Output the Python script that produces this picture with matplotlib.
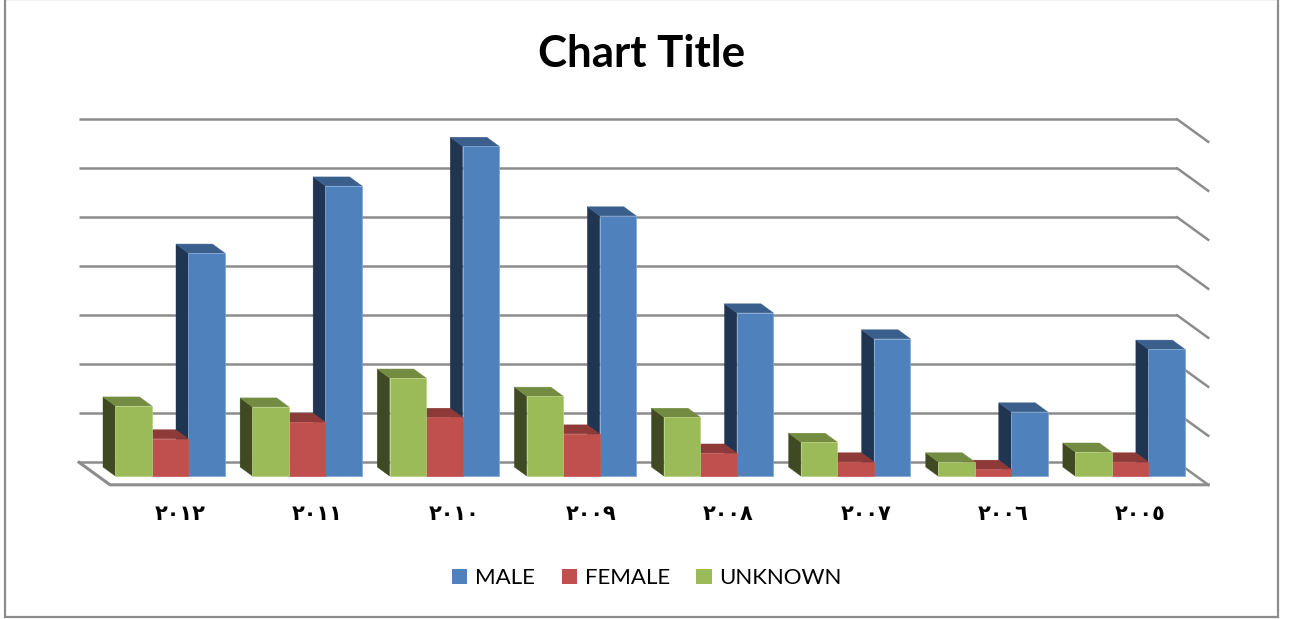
import matplotlib
matplotlib.use("Agg")
import matplotlib.pyplot as plt
from matplotlib.patches import Polygon, Rectangle

# Values, in gridline steps (the chart shows no value axis)
years = ["٢٠١٢", "٢٠١١", "٢٠١٠", "٢٠٠٩", "٢٠٠٨", "٢٠٠٧", "٢٠٠٦", "٢٠٠٥"]
male = [4.55, 5.92, 6.73, 5.31, 3.33, 2.80, 1.31, 2.59]
female = [0.76, 1.10, 1.20, 0.86, 0.47, 0.29, 0.14, 0.29]
unknown = [1.43, 1.41, 2.00, 1.63, 1.20, 0.69, 0.29, 0.49]
grid_levels = [0, 1, 2, 3, 4, 5, 6, 7]

W, H = 1294, 619
GROUP_PX = 137.1
STEP_PX = 49.0
LEFT_PX = 101.5
GREY = "#8C8C8C"

# depth of bars and of the chart walls, in data units
bar_dx, bar_dy = 12.3 / GROUP_PX, 9 / STEP_PX
wall_dx, wall_dy = 31 / GROUP_PX, 22.5 / STEP_PX
bar_w = 36.5 / GROUP_PX

fig = plt.figure(figsize=(W / 100, H / 100), dpi=100)
fig.patch.set_facecolor("white")
ax = fig.add_axes([LEFT_PX / W, (H - 476) / H, 1097 / W, 343 / H])
ax.set_xlim(-0.5, 7.5)
ax.set_ylim(0, 7)
ax.axis("off")

# outer frame of the chart
fig.add_artist(Rectangle((5 / W, 2 / H), 1273 / W, 618 / H, transform=fig.transFigure,
                         fill=False, edgecolor=GREY, linewidth=1.6))

# back wall, side wall and floor
x_left = -0.5 + (110 - LEFT_PX) / GROUP_PX
x_right = -0.5 + (1208 - LEFT_PX) / GROUP_PX
floor_y = -8.8 / STEP_PX
for level in grid_levels:
    y_back = level + floor_y + wall_dy
    ax.plot([x_left - wall_dx, x_right - wall_dx], [y_back, y_back],
            color=GREY, lw=1.8, zorder=1, clip_on=False, solid_capstyle="butt")
    ax.plot([x_right - wall_dx, x_right], [y_back, level + floor_y],
            color=GREY, lw=1.8, zorder=1, clip_on=False)
ax.plot([x_left - wall_dx, x_left, x_right], [floor_y + wall_dy, floor_y, floor_y],
        color=GREY, lw=2.2, zorder=1, clip_on=False)

# drawn right to left so nearer faces cover the sides of the next bar
series = [
    ("MALE", male, 1, "#4F81BD", "#1F3552", "#3A5F8C", "#7FA5D2"),
    ("FEMALE", female, 0, "#C0504D", "#7F3533", "#8E3A38", "#C0504D"),
    ("UNKNOWN", unknown, -1, "#9BBB59", "#3F4A22", "#748C42", "#B4CE7C"),
]
handles = []
z = 2
for name, values, offset, front, side, top, edge in series:
    for i, v in enumerate(values):
        x0 = i + offset * bar_w - bar_w / 2
        x1 = x0 + bar_w
        ax.add_patch(Polygon([(x0, 0), (x0, v), (x0 - bar_dx, v + bar_dy), (x0 - bar_dx, bar_dy)],
                             facecolor=side, edgecolor=side, lw=0.3, zorder=z, clip_on=False))
        ax.add_patch(Polygon([(x0, v), (x1, v), (x1 - bar_dx, v + bar_dy), (x0 - bar_dx, v + bar_dy)],
                             facecolor=top, edgecolor=top, lw=0.3, zorder=z, clip_on=False))
    ax.bar([i + offset * bar_w for i in range(len(values))], values, width=bar_w,
           color=front, edgecolor=edge, linewidth=0.5, zorder=z + 1, clip_on=False)
    handles.append(Rectangle((0, 0), 1, 1, facecolor=front, label=name))
    z += 2

# category labels sit a bit right of the bar groups
for i, year in enumerate(years):
    ax.text(i + 10 / GROUP_PX, -38.5 / STEP_PX, year, ha="center", va="center",
            fontsize=15, fontweight="bold", family="DejaVu Sans", color="black")

fig.text(642 / W, 1 - 54 / H, "Chart Title", ha="center", va="center",
         fontsize=31.6, fontweight="bold", family="Lato", color="black")

fig.legend(handles=handles, loc="center", bbox_to_anchor=(647 / W, 1 - 578 / H), ncol=3,
           frameon=False, prop={"family": "Lato", "size": 16},
           handlelength=0.68, handleheight=0.68, handletextpad=0.35, columnspacing=1.2)

fig.savefig("out.png", dpi=100)
